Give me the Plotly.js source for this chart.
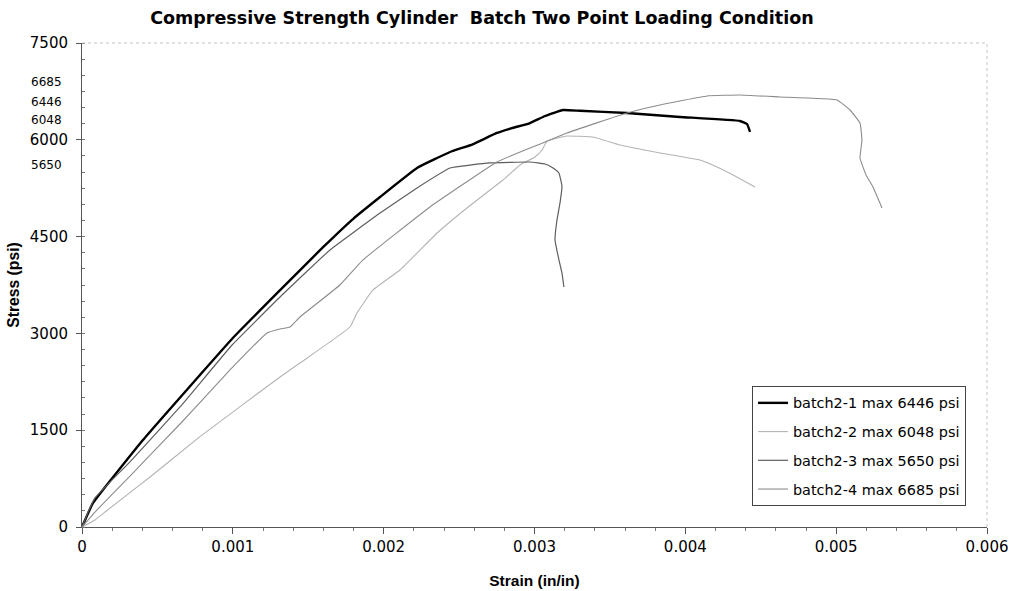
<!DOCTYPE html>
<html>
<head>
<meta charset="utf-8">
<script src="https://cdn.plot.ly/plotly-3.0.1.min.js"></script>
<style>html,body{margin:0;padding:0;background:#fff;}#chart{width:1020px;height:591px;}</style>
</head>
<body>
<div id="chart"></div>
<script>
// ---- data (strain in/in, stress psi) ----
const seriesNames = ["batch2-1 max 6446 psi", "batch2-2 max 6048 psi", "batch2-3 max 5650 psi", "batch2-4 max 6685 psi"];

const b1Strain = [0, 0.000073, 0.000404, 0.000782, 0.001, 0.0013, 0.0016, 0.0018, 0.001976, 0.002221, 0.00244, 0.00259, 0.002751, 0.00285, 0.00297, 0.00307, 0.003189, 0.0033, 0.003613, 0.003965, 0.004362, 0.004409, 0.004429];
const b1Stress = [0, 372, 1348, 2356, 2929, 3640, 4340, 4780, 5114, 5563, 5811, 5930, 6106, 6180, 6260, 6369, 6462, 6450, 6416, 6354, 6292, 6245, 6121];

const b2Strain = [0, 0.0000862, 0.0001525, 0.000451, 0.000782, 0.001313, 0.001445, 0.001777, 0.001823, 0.001929, 0.002108, 0.002354, 0.002552, 0.002791, 0.002904, 0.003003, 0.00305, 0.003083, 0.003215, 0.003388, 0.003567, 0.003832, 0.004097, 0.00421, 0.004329, 0.004462];
const b2Stress = [0, 108, 232, 775, 1400, 2325, 2541, 3099, 3316, 3673, 3983, 4556, 4944, 5377, 5610, 5734, 5842, 5982, 6059, 6044, 5920, 5796, 5687, 5579, 5440, 5269];

const b3Strain = [0, 0.00004, 0.000086, 0.000318, 0.00065, 0.000995, 0.001313, 0.001644, 0.001976, 0.002221, 0.00244, 0.002705, 0.00297, 0.00307, 0.003123, 0.003162, 0.003182, 0.003169, 0.003149, 0.003136, 0.003162, 0.003182, 0.003195];
const b3Stress = [0, 230, 450, 1010, 1860, 2820, 3564, 4293, 4866, 5254, 5563, 5641, 5656, 5625, 5563, 5485, 5284, 5021, 4757, 4448, 4138, 3937, 3719];

const b4Strain = [0, 0.0000862, 0.000318, 0.00065, 0.000981, 0.001227, 0.001313, 0.001379, 0.001445, 0.00171, 0.001863, 0.002307, 0.002751, 0.00297, 0.003056, 0.003215, 0.003613, 0.003832, 0.004144, 0.004362, 0.004628, 0.005006, 0.005092, 0.005158, 0.005171, 0.005158, 0.005198, 0.005244, 0.005304];
const b4Stress = [0, 232, 790, 1596, 2433, 3006, 3068, 3099, 3254, 3750, 4138, 4959, 5656, 5873, 5951, 6106, 6416, 6540, 6679, 6695, 6664, 6617, 6462, 6261, 5997, 5718, 5455, 5269, 4944];

const yTickVals = [0, 1500, 3000, 4500, 6000, 7500];
const xTickVals = [0, 0.001, 0.002, 0.003, 0.004, 0.005, 0.006];
const xTickText = ["0", "0.001", "0.002", "0.003", "0.004", "0.005", "0.006"];
const peakLabels = ["6685", "6446", "6048", "5650"];
// vertical placement of the peak labels (paper fraction), as drawn in the reference
const peakLabelPos = [0.920, 0.879, 0.841, 0.748];

const colors = ["#000000", "#b4b4b4", "#5e5e5e", "#8c8c8c"];
const widths = [2.4, 1.1, 1.2, 1.1];
const xs = [b1Strain, b2Strain, b3Strain, b4Strain];
const ys = [b1Stress, b2Stress, b3Stress, b4Stress];

const traces = xs.map((x, i) => ({
  type: "scatter", mode: "lines", x: x, y: ys[i], name: seriesNames[i],
  legendgroup: "g" + i,
  line: {color: colors[i], width: widths[i], shape: "spline", smoothing: 0.3}
}));

const font = "DejaVu Sans, sans-serif";
const fontB = "Liberation Sans, Arial, sans-serif";

const annotations = peakLabels.map((t, i) => ({
  text: t, xref: "paper", yref: "paper", x: -0.0195, y: peakLabelPos[i],
  xanchor: "right", yanchor: "middle", showarrow: false,
  font: {family: font, size: 12, color: "#000"}
}));

const layout = {
  width: 1020, height: 591,
  margin: {l: 82, r: 33, t: 43, b: 64},
  paper_bgcolor: "#fff", plot_bgcolor: "#fff",
  showlegend: true,
  title: {text: "<b>Compressive Strength Cylinder  Batch Two Point Loading Condition</b>",
          x: 0.4725, xref: "container", xanchor: "center", y: 0.97, yref: "container", yanchor: "middle",
          font: {family: font, size: 17.5, color: "#000"}},
  xaxis: {range: [0, 0.006], tickvals: xTickVals, ticktext: xTickText,
          showgrid: false, zeroline: false, showline: true, linecolor: "#555", linewidth: 1,
          ticks: "outside", ticklen: 6, tickcolor: "#555",
          minor: {dtick: 0.0002, ticks: "outside", ticklen: 3, tickcolor: "#777", showgrid: false},
          tickfont: {family: font, size: 15, color: "#000"},
          title: {text: "<b>Strain (in/in)</b>", font: {family: fontB, size: 15.5, color: "#000"}, standoff: 20}},
  yaxis: {range: [0, 7500], tickvals: yTickVals,
          showgrid: false, zeroline: false, showline: true, linecolor: "#555", linewidth: 1,
          ticks: "outside", ticklen: 5, tickcolor: "#555", ticklabelstandoff: 5,
          minor: {dtick: 250, ticks: "inside", ticklen: 3, tickcolor: "#777", showgrid: false},
          tickfont: {family: font, size: 15, color: "#000"},
          title: {text: "<b>Stress (psi)</b>", font: {family: fontB, size: 15.7, color: "#000"}, standoff: 6}},
  legend: {x: 0.7403, y: 0.2913, xanchor: "left", yanchor: "top",
           bgcolor: "#fff", bordercolor: "#444", borderwidth: 1,
           tracegroupgap: 7, itemwidth: 30,
           font: {family: font, size: 14.4, color: "#000"}},
  annotations: annotations,
  shapes: [
    {type: "line", xref: "paper", yref: "paper", x0: 0, x1: 1, y0: 1, y1: 1, line: {color: "#c4c4c4", width: 1, dash: "dot"}},
    {type: "line", xref: "paper", yref: "paper", x0: 1, x1: 1, y0: 0, y1: 1, line: {color: "#c4c4c4", width: 1, dash: "dot"}}
  ]
};

Plotly.newPlot("chart", traces, layout, {displayModeBar: false, staticPlot: true});
</script>
</body>
</html>
